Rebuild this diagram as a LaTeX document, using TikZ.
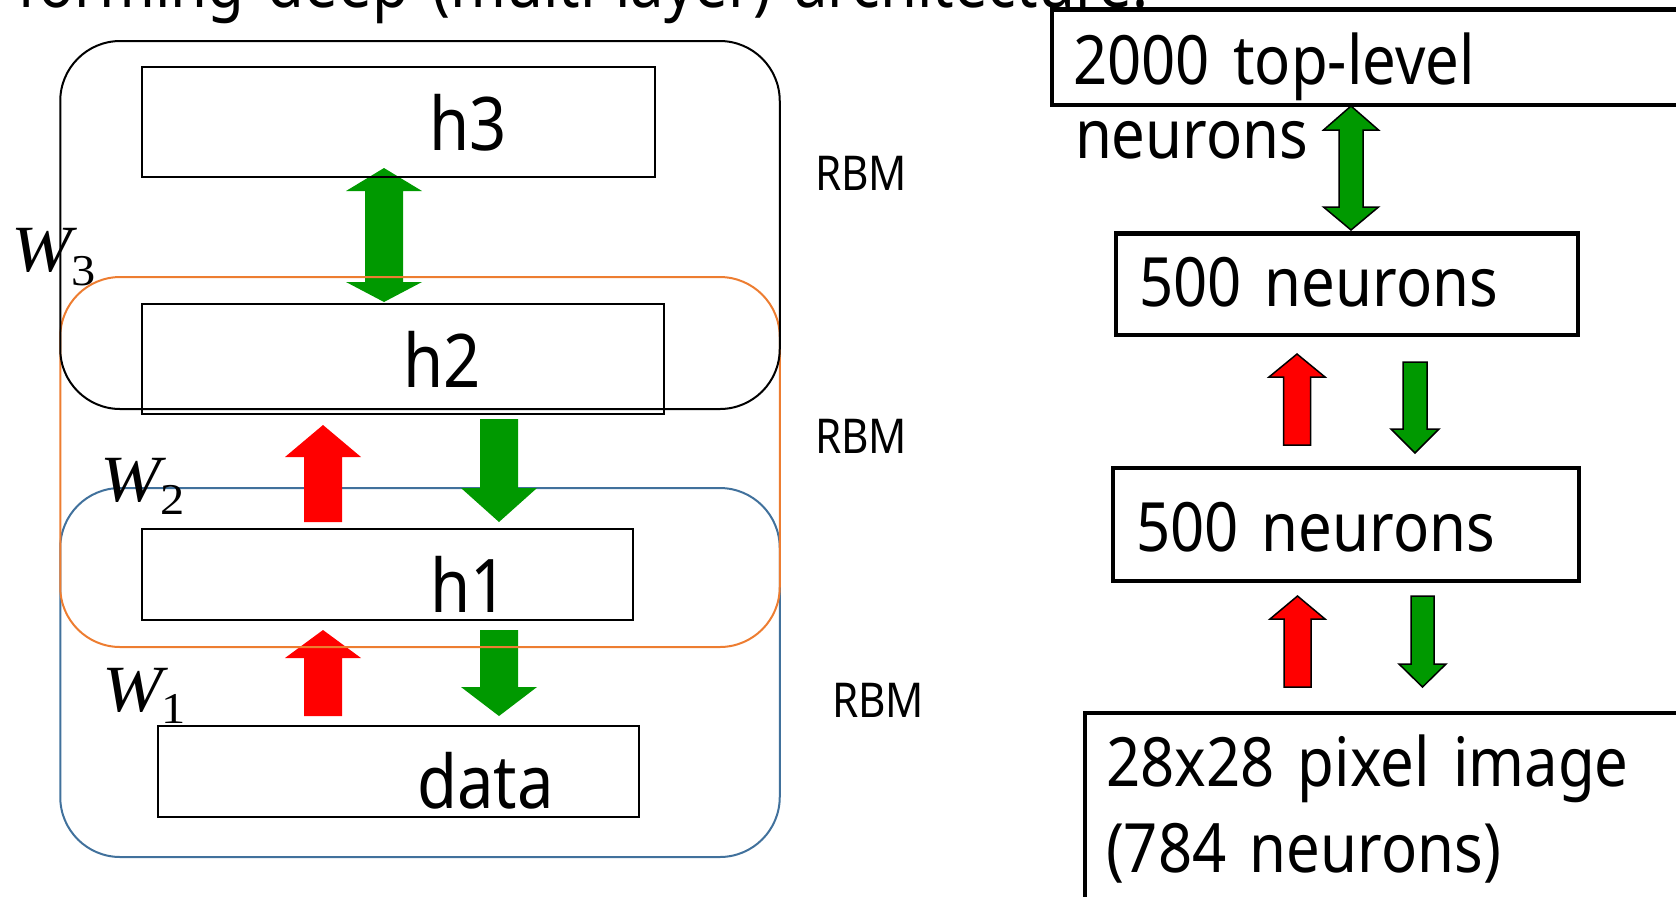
\documentclass[tikz,border=0pt]{standalone}
\usepackage{fontspec}
\setmainfont{Noto Sans}[FakeStretch=0.88, WordSpace=1.5]
\newfontfamily\tnr{Liberation Serif}[FakeStretch=1.1]
\definecolor{agreen}{HTML}{009900}
\definecolor{ared}{HTML}{FF0000}
\definecolor{rorange}{HTML}{ED7D31}
\definecolor{rblue}{HTML}{41719C}
% block arrow: style, cx, ytail, yshoulder, ytip, shaft half, head half
\newcommand{\blkarrow}[7]{%
  \path[#1] ({#2-#6},#3) -- ({#2-#6},#4) -- ({#2-#7},#4) -- (#2,#5) --
    ({#2+#7},#4) -- ({#2+#6},#4) -- ({#2+#6},#3) -- cycle;}
% double block arrow: style, cx, ytip1, ysh1, ysh2, ytip2, shaft half, head half
\newcommand{\dblarrow}[8]{%
  \path[#1] (#2,#3) -- ({#2+#8},#4) -- ({#2+#7},#4) -- ({#2+#7},#5) --
    ({#2+#8},#5) -- (#2,#6) -- ({#2-#8},#5) -- ({#2-#7},#5) --
    ({#2-#7},#4) -- ({#2-#8},#4) -- cycle;}
\tikzset{
  lbl/.style={anchor=base west, inner sep=0pt, outer sep=0pt},
  bigtxt/.style={lbl, font=\fontsize{34pt}{40pt}\selectfont},
  htxt/.style={lbl, font=\fontsize{37pt}{40pt}\selectfont},
  rbmtxt/.style={lbl, font=\fontsize{24pt}{28pt}\selectfont},
  wtxt/.style={lbl, font=\tnr\itshape\fontsize{33pt}{36pt}\selectfont},
  subtxt/.style={lbl, font=\tnr\fontsize{22pt}{24pt}\selectfont},
  layerbox/.style={draw=black, line width=1pt, inner sep=0pt, outer sep=0pt},
  rbmbox/.style={draw, line width=1pt, rounded corners=30pt, inner sep=0pt, outer sep=0pt, minimum width=359.75pt},
  thickbox/.style={draw=black, fill=white, line width=2.15pt, inner sep=0pt, outer sep=0pt},
  plainup/.style={fill=ared},
  plaindown/.style={fill=agreen},
  edgeup/.style={fill=ared, draw=black, line width=0.75pt, line join=miter},
  edgedown/.style={fill=agreen, draw=black, line width=0.75pt, line join=miter},
}
\begin{document}
\begin{tikzpicture}[x=0.5pt,y=-0.5pt]
\useasboundingbox (0,0) rectangle (1676,896);
\clip (0,0) rectangle (1676,896);

% cut-off heading
\node[bigtxt] (head) at (18,7) {forming deep (multi-layer) architecture.};

% ---------- left: stacked RBMs ----------
\node[rbmbox, draw=rblue, minimum height=184.5pt] (rbm1) at (420,672.5) {};

\blkarrow{plainup}{323}{522}{457}{425}{19}{38}
\blkarrow{plaindown}{499}{419}{488}{522}{19}{38}
\blkarrow{plainup}{323}{716}{658}{630}{19}{38}
\blkarrow{plaindown}{499}{630}{687}{716}{19}{38}
\dblarrow{plaindown}{384}{168}{191}{282}{302}{19}{38}

\node[rbmbox, draw=rorange, minimum height=185pt] (rbm2) at (420,462) {};
\node[rbmbox, draw=black, minimum height=184pt] (rbm3) at (420,225) {};

\node[layerbox, minimum width=256.5pt, minimum height=55pt] (h3) at (398.5,122) {};
\node[layerbox, minimum width=261pt, minimum height=55pt] (h2) at (403,359) {};
\node[layerbox, minimum width=245.5pt, minimum height=45.5pt] (h1) at (387.5,574.5) {};
\node[layerbox, minimum width=240.5pt, minimum height=45.5pt] (data) at (398.5,771.5) {};

\node[htxt] (th3) at (429,150) {h3};
\node[htxt] (th2) at (403,387) {h2};
\node[htxt] (th1) at (430,612) {h1};
\node[htxt] (tdata) at (417,808) {data};

\node[wtxt] (w3) at (11,271) {W};
\node[subtxt] (w3s) at (71,285) {3};
\node[wtxt] (w2) at (100,501) {W};
\node[subtxt] (w2s) at (160,514) {2};
\node[wtxt] (w1) at (102,711) {W};
\node[subtxt] (w1s) at (161,723) {1};

\node[rbmtxt] (rbmA) at (815,190) {RBM};
\node[rbmtxt] (rbmB) at (815,453) {RBM};
\node[rbmtxt] (rbmC) at (832,717) {RBM};

% ---------- right: network ----------
\node[thickbox, minimum width=324pt, minimum height=47.75pt] (top) at (1376,57.25) {};
\node[bigtxt] (ttop1) at (1073,84) {2000 top-level};
\node[bigtxt] (ttop2) at (1075,158) {neurons};

\dblarrow{edgedown}{1351}{106}{130}{207}{230}{12}{27.5}

\node[thickbox, minimum width=231pt, minimum height=50.75pt] (n2) at (1347,284.25) {};
\node[bigtxt] (tn2) at (1139,306) {500 neurons};

\blkarrow{edgeup}{1297}{445}{377}{354}{13.5}{28}
\blkarrow{edgedown}{1415}{362}{429}{453}{12}{24}

\node[thickbox, minimum width=233pt, minimum height=56.5pt] (n1) at (1346,524.5) {};
\node[bigtxt] (tn1) at (1136,551) {500 neurons};

\blkarrow{edgeup}{1297.5}{687}{619}{596}{13.5}{27.5}
\blkarrow{edgedown}{1422.5}{596}{664}{687}{11.5}{23.5}

\node[thickbox, minimum width=307.5pt, minimum height=103.5pt] (img) at (1392.5,816.5) {};
\node[bigtxt] (timg1) at (1106,786) {28x28 pixel image};
\node[bigtxt] (timg2) at (1106,872) {(784 neurons)};
\end{tikzpicture}
\end{document}
